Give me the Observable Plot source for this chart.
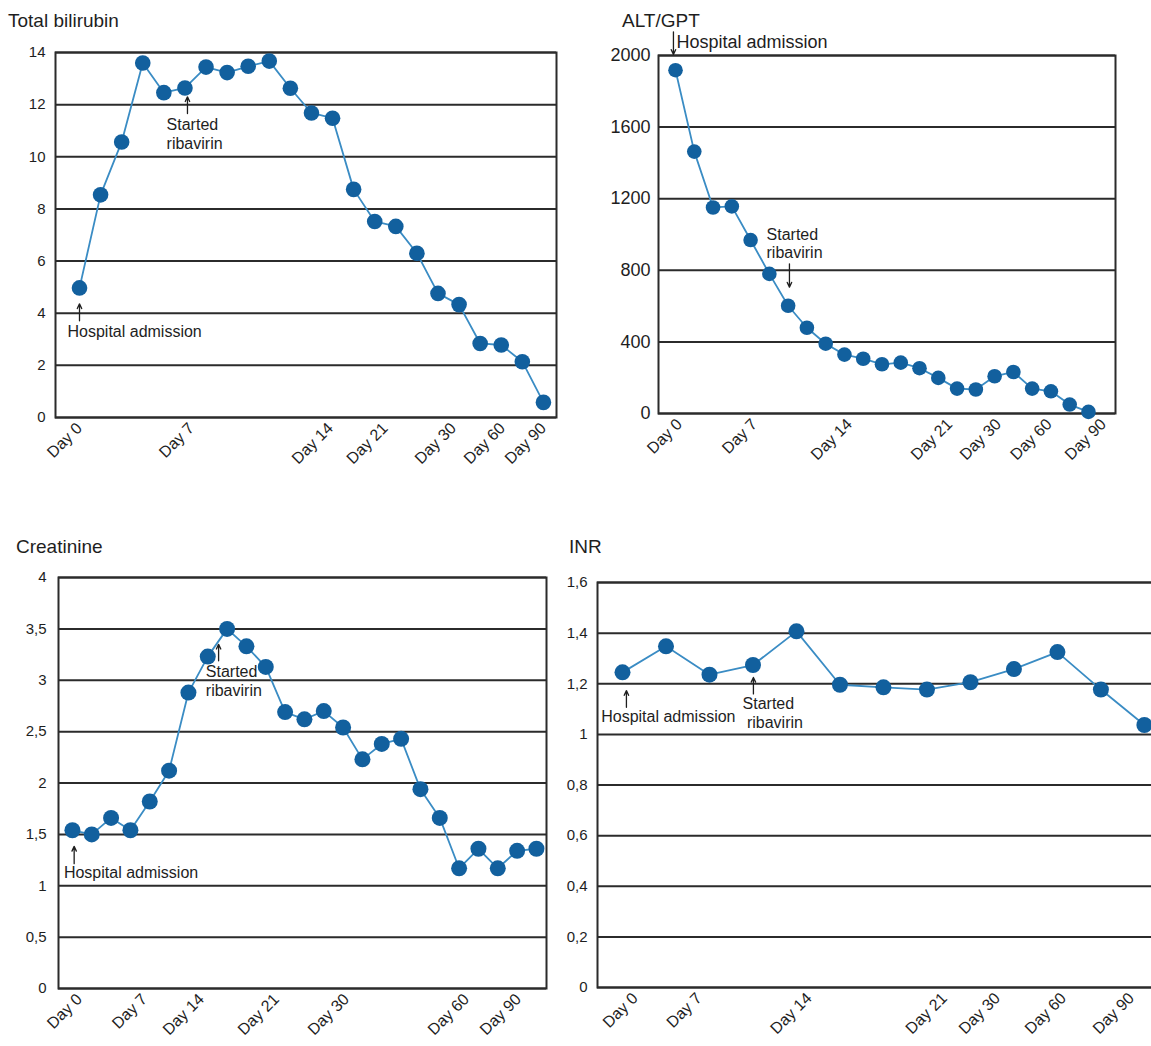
<!DOCTYPE html>
<html>
<head>
<meta charset="utf-8">
<script src="https://cdn.jsdelivr.net/npm/d3@7"></script>
<script src="https://cdn.jsdelivr.net/npm/@observablehq/plot@0.6"></script>
<style>
  html, body { margin: 0; padding: 0; background: #fff; }
  body { position: relative; width: 1151px; height: 1046px; overflow: hidden; font-family: "Liberation Sans", Arial, sans-serif; color: #1e1e1e; }
  .title { position: absolute; font-size: 19px; line-height: 20px; white-space: nowrap; }
  .panel { position: absolute; }
  .panel svg { max-width: none !important; }
</style>
</head>
<body>
<div class="title" style="left:8px; top:11px;">Total bilirubin</div>
<div class="title" style="left:622px; top:11px;">ALT/GPT</div>
<div class="title" style="left:16px; top:537px;">Creatinine</div>
<div class="title" style="left:569px; top:537px;">INR</div>
<div class="panel" id="p1" style="left:0px; top:30px;"></div>
<div class="panel" id="p2" style="left:575px; top:20px;"></div>
<div class="panel" id="p3" style="left:0px; top:555px;"></div>
<div class="panel" id="p4" style="left:560px; top:555px; width:640px;"></div>
<script>
// ---------- data ----------
const dayLabels = ["Day 0", "Day 7", "Day 14", "Day 21", "Day 30", "Day 60", "Day 90"];

// Total bilirubin (one value per measurement, in order)
const bilirubinValues = [4.97, 8.54, 10.57, 13.6, 12.46, 12.64, 13.44, 13.23, 13.47, 13.67, 12.63, 11.68, 11.48, 8.75, 7.52, 7.33, 6.3, 4.76, 4.33, 2.84, 2.78, 2.14, 0.58];
const bilirubinTickPos = [0, 5.31, 11.9, 14.5, 17.73, 20.06, 22.0];
const bilirubinYTicks = [0, 2, 4, 6, 8, 10, 12, 14];

// ALT/GPT
const altValues = [1918, 1463, 1151, 1157, 969, 780, 602, 479, 390, 329, 306, 275, 284, 253, 199, 139, 134, 208, 232, 139, 124, 50, 9];
const altTickPos = [0.21, 4.21, 9.27, 14.6, 17.2, 19.9, 22.8];
const altYTicks = [0, 400, 800, 1200, 1600, 2000];

// Creatinine
const creatinineValues = [1.54, 1.5, 1.66, 1.54, 1.82, 2.12, 2.88, 3.23, 3.5, 3.33, 3.13, 2.69, 2.62, 2.7, 2.54, 2.23, 2.38, 2.43, 1.94, 1.66, 1.17, 1.36, 1.17, 1.34, 1.36];
const creatinineTickPos = [0.36, 3.72, 6.67, 10.55, 14.17, 20.38, 23.07];
const creatinineYTicks = [0, 0.5, 1, 1.5, 2, 2.5, 3, 3.5, 4];

// INR
const inrValues = [1.245, 1.348, 1.236, 1.274, 1.407, 1.196, 1.186, 1.177, 1.206, 1.258, 1.325, 1.177, 1.037];
const inrTickPos = [0.29, 1.76, 4.29, 7.4, 8.62, 10.14, 11.7];
const inrYTicks = [0, 0.2, 0.4, 0.6, 0.8, 1, 1.2, 1.4, 1.6];

// annotations (data units: measurement index, value)
const bilirubinNotes = [
  {x: 4.13, y: 11.21, text: "Started"},
  {x: 4.13, y: 10.5, text: "ribavirin"},
  {x: -0.57, y: 3.29, text: "Hospital admission"}
];
const bilirubinArrows = [
  {x1: 5.12, y1: 11.66, x2: 5.12, y2: 12.3},
  {x1: 0, y1: 3.71, x2: 0, y2: 4.36}
];
const altNotes = [
  {x: 0.05, y: 2076, text: "Hospital admission", size: 18},
  {x: 4.85, y: 999, text: "Started", size: 16},
  {x: 4.85, y: 895, text: "ribavirin", size: 16}
];
const altArrows = [
  {x1: -0.11, y1: 2132, x2: -0.11, y2: 2006},
  {x1: 6.07, y1: 836, x2: 6.07, y2: 706}
];
const creatinineNotes = [
  {x: 6.9, y: 3.083, text: "Started"},
  {x: 6.9, y: 2.9, text: "ribavirin"},
  {x: -0.44, y: 1.124, text: "Hospital admission"}
];
const creatinineArrows = [
  {x1: 7.56, y1: 3.19, x2: 7.56, y2: 3.35},
  {x1: 0.09, y1: 1.215, x2: 0.09, y2: 1.383}
];
const inrNotes = [
  {x: -0.49, y: 1.068, text: "Hospital admission"},
  {x: 2.76, y: 1.12, text: "Started"},
  {x: 2.86, y: 1.044, text: "ribavirin"}
];
const inrArrows = [
  {x1: 0.09, y1: 1.107, x2: 0.09, y2: 1.173},
  {x1: 3.01, y1: 1.16, x2: 3.01, y2: 1.225}
];

// ---------- drawing ----------
const gridColor = "#2b2b2b";
const lineColor = "#3a8cc4";
const dotColor = "#12609e";
const commaFmt = d => String(d).replace(".", ",");

function panel(o) {
  const data = o.values.map((v, i) => ({i, v}));
  return Plot.plot({
    width: o.width,
    height: o.height,
    marginLeft: o.ml, marginRight: o.mr, marginTop: o.mt, marginBottom: o.mb,
    x: {domain: o.xDomain, axis: null},
    y: {domain: [o.yTicks[0], o.yTicks[o.yTicks.length - 1]], axis: null},
    style: {fontFamily: '"Liberation Sans", Arial, sans-serif', fontSize: "15px", background: "transparent", overflow: "visible", color: "#1e1e1e", maxWidth: "none"},
    marks: [
      Plot.gridY(o.yTicks, {stroke: gridColor, strokeWidth: 2, strokeOpacity: 1}),
      Plot.frame({stroke: gridColor, strokeWidth: 2}),
      Plot.axisY({ticks: o.yTicks, tickSize: 0, tickPadding: o.yPad, tickFormat: o.yFmt, fontSize: o.yFont, label: null}),
      Plot.axisX({ticks: o.xTicks, tickSize: 0, tickPadding: 8, tickRotate: -45, fontSize: 16, label: null,
                  tickFormat: d => dayLabels[o.xTicks.indexOf(d)]}),
      Plot.line(data, {x: "i", y: "v", stroke: lineColor, strokeWidth: 1.8}),
      Plot.dot(data, {x: "i", y: "v", r: o.r, fill: dotColor, stroke: null}),
      Plot.arrow(o.arrows, {x1: "x1", y1: "y1", x2: "x2", y2: "y2", stroke: "#1e1e1e", strokeWidth: 1.3, headLength: 6, headAngle: 50}),
      Plot.text(o.notes, {x: "x", y: "y", text: "text", textAnchor: "start", fontSize: d => d.size || 16, fill: "#1e1e1e"})
    ]
  });
}

document.getElementById("p1").append(panel({
  values: bilirubinValues, xDomain: [-1.138, 22.62], xTicks: bilirubinTickPos,
  yTicks: bilirubinYTicks, yFmt: d => String(d), yFont: 15, yPad: 10, r: 7.8,
  width: 575, height: 450, ml: 55, mr: 19, mt: 22, mb: 63,
  notes: bilirubinNotes, arrows: bilirubinArrows
}));
document.getElementById("p2").append(panel({
  values: altValues, xDomain: [-0.906, 23.44], xTicks: altTickPos,
  yTicks: altYTicks, yFmt: d => String(d), yFont: 18, yPad: 8, r: 7.3,
  width: 570, height: 460, ml: 83, mr: 30, mt: 35, mb: 67,
  notes: altNotes, arrows: altArrows
}));
document.getElementById("p3").append(panel({
  values: creatinineValues, xDomain: [-0.72, 24.52], xTicks: creatinineTickPos,
  yTicks: creatinineYTicks, yFmt: commaFmt, yFont: 15, yPad: 12, r: 8,
  width: 560, height: 491, ml: 58, mr: 14, mt: 22, mb: 58,
  notes: creatinineNotes, arrows: creatinineArrows
}));
document.getElementById("p4").append(panel({
  values: inrValues, xDomain: [-0.575, 12.83], xTicks: inrTickPos,
  yTicks: inrYTicks, yFmt: commaFmt, yFont: 15, yPad: 10, r: 8,
  width: 640, height: 491, ml: 37, mr: 20, mt: 27, mb: 59,
  notes: inrNotes, arrows: inrArrows
}));
</script>
</body>
</html>
